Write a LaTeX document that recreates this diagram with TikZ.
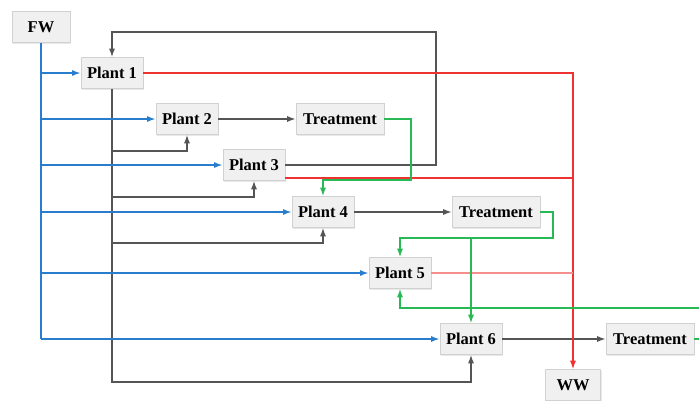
\documentclass[tikz,border=0pt]{standalone}
\usepackage{fontspec}
\setmainfont{Liberation Serif}
\usetikzlibrary{arrows.meta,shadows}
\definecolor{feedblue}{RGB}{40,125,205}
\definecolor{wastered}{RGB}{238,50,50}
\definecolor{reusegreen}{RGB}{40,185,85}
\definecolor{pipegray}{RGB}{85,85,85}
\tikzset{
  unit/.style={draw=black!18, fill=black!6, line width=0.6pt,
    drop shadow={shadow xshift=1.2pt, shadow yshift=-1.2pt, opacity=0.18},
    minimum height=31pt, inner sep=0pt,
    font=\fontsize{16.5}{18}\selectfont\bfseries},
  plant/.style={unit, minimum width=62pt},
  treat/.style={unit, minimum width=88pt},
  tip/.style={-{Latex[length=8.5pt,width=6pt]}},
  blueline/.style={draw=feedblue, line width=1.6pt},
  grayline/.style={draw=pipegray, line width=1.3pt},
  redline/.style={draw=wastered, line width=1.3pt},
  pinkline/.style={draw=wastered!55, line width=1.3pt},
  greenline/.style={draw=reusegreen, line width=1.3pt},
}
\begin{document}
\begin{tikzpicture}[x=1pt,y=-1pt]
\useasboundingbox (0,0) rectangle (699,400);
\clip (0,0) rectangle (699,400);

% process units
\node[unit, minimum width=58pt] (fw) at (41,27) {FW};
\node[plant] (p1) at (112,73) {Plant 1};
\node[plant] (p2) at (187,119) {Plant 2};
\node[treat] (t1) at (340,119) {Treatment};
\node[plant] (p3) at (254,165) {Plant 3};
\node[plant] (p4) at (323,212) {Plant 4};
\node[treat] (t2) at (496,212) {Treatment};
\node[plant] (p5) at (400,273) {Plant 5};
\node[plant] (p6) at (471,339) {Plant 6};
\node[treat] (t3) at (650,339) {Treatment};
\node[unit, minimum width=55pt] (ww) at (573,385) {WW};

% outlet of Plant 1 distributed to downstream plants
\draw[grayline, tip] (p1.south) -- (112,382) -| (p6.south);
\draw[grayline, tip] (112,151) -| (p2.south);
\draw[grayline, tip] (112,197) -| (p3.south);
\draw[grayline, tip] (112,243) -| (p4.south);

% recycle from Plant 3 back to Plant 1
\draw[grayline, tip] (p3.east) -- (436,165) -- (436,32) -| (p1.north);

% plant to treatment
\draw[grayline, tip] (p2.east) -- (t1.west);
\draw[grayline, tip] (p4.east) -- (t2.west);
\draw[grayline, tip] (p6.east) -- (t3.west);

% wastewater
\draw[redline, tip] (p1.east) -| (ww.north);
\draw[redline] ([yshift=-13pt]p3.east) -- (573,178);
\draw[pinkline] (p5.east) -- (573,273);

% treated water reuse
\draw[greenline, tip] (t1.east) -- (411,119) -- (411,180) -| (p4.north);
\draw[greenline, tip] (t2.east) -- (553,212) -- (553,238) -| (p5.north);
\draw[greenline, tip] (p6.north |- 0,238) -- (p6.north);
\draw[greenline, tip] (t3.east) -- (712,339) -- (712,308) -| (p5.south);

% fresh water supply
\draw[blueline] (fw.south) -- (41,339);
\draw[blueline, tip] (41,73) -- (p1.west);
\draw[blueline, tip] (41,119) -- (p2.west);
\draw[blueline, tip] (41,165) -- (p3.west);
\draw[blueline, tip] (41,212) -- (p4.west);
\draw[blueline, tip] (41,273) -- (p5.west);
\draw[blueline, tip] (41,339) -- (p6.west);
\end{tikzpicture}
\end{document}
